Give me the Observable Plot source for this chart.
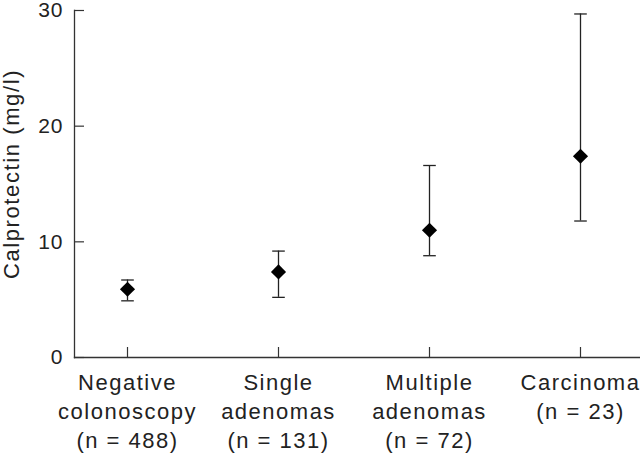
<!DOCTYPE html>
<html>
<head>
<meta charset="utf-8">
<script src="https://cdn.jsdelivr.net/npm/d3@7"></script>
<script src="https://cdn.jsdelivr.net/npm/@observablehq/plot@0.6"></script>
<style>
  html, body { margin: 0; padding: 0; background: #fff; }
  #chart svg { display: block; }
  #chart g[aria-label="x-axis tick label"] text { letter-spacing: 1.5px; }
  #chart g[aria-label="y-axis tick label"] text { letter-spacing: 1px; }
  #chart g[aria-label="text"] text { letter-spacing: 1.6px; }
</style>
</head>
<body>
<div id="chart"></div>
<script>
const groups = ["Negative colonoscopy", "Single adenomas", "Multiple adenomas", "Carcinoma"];
const tickLabels = ["Negative\ncolonoscopy\n(n = 488)", "Single\nadenomas\n(n = 131)", "Multiple\nadenomas\n(n = 72)", "Carcinoma\n(n = 23)"];
const medians = [5.9, 7.4, 11.0, 17.4];
const lower = [4.9, 5.2, 8.8, 11.8];
const upper = [6.7, 9.2, 16.6, 29.7];
const yTicks = [0, 10, 20, 30];
const yLabel = "Calprotectin (mg/l)";

const data = groups.map((g, i) => ({group: g, median: medians[i], lo: lower[i], hi: upper[i]}));
const labelOf = new Map(groups.map((g, i) => [g, tickLabels[i]]));

// horizontal cap symbol for error bars
const capSymbol = {draw(ctx, size) { const w = 6.3; ctx.moveTo(-w, 0); ctx.lineTo(w, 0); }};

const ink = "#222";
const lineInk = "#333";
const chart = Plot.plot({
  width: 640,
  height: 454,
  marginLeft: 74,
  marginRight: 0,
  marginTop: 10,
  marginBottom: 97,
  style: {fontFamily: "'Liberation Sans', Arial, sans-serif", color: ink, background: "#fff", overflow: "visible"},
  x: {type: "point", domain: groups, padding: 0.37, align: 0.47},
  y: {domain: [0, 30]},
  marks: [
    Plot.frame({anchor: "left", stroke: lineInk, strokeWidth: 1.3}),
    Plot.frame({anchor: "bottom", stroke: lineInk, strokeWidth: 1.3}),
    Plot.axisY({ticks: yTicks, tickSize: -10, tickPadding: 21, fontSize: 21, stroke: lineInk, strokeWidth: 1.2,
      label: null}),
    Plot.axisX({tickSize: -10, tickPadding: 22, fontSize: 22, lineHeight: 1.32, stroke: lineInk, strokeWidth: 1.2,
      tickFormat: d => labelOf.get(d), label: null}),
    Plot.text([yLabel], {text: d => d, frameAnchor: "left", rotate: -90, dx: -63, dy: -10,
      fontSize: 22, fill: ink, textAnchor: "middle", lineAnchor: "middle"}),
    Plot.ruleX(data, {x: "group", y1: "lo", y2: "hi", stroke: ink, strokeWidth: 1.3}),
    Plot.dot(data, {x: "group", y: "lo", symbol: capSymbol, r: 6, fill: "none", stroke: ink, strokeWidth: 1.3}),
    Plot.dot(data, {x: "group", y: "hi", symbol: capSymbol, r: 6, fill: "none", stroke: ink, strokeWidth: 1.3}),
    Plot.dot(data, {x: "group", y: "median", symbol: "diamond2", r: 6.8, fill: "#000", stroke: "none"})
  ]
});
document.getElementById("chart").appendChild(chart);
</script>
</body>
</html>
